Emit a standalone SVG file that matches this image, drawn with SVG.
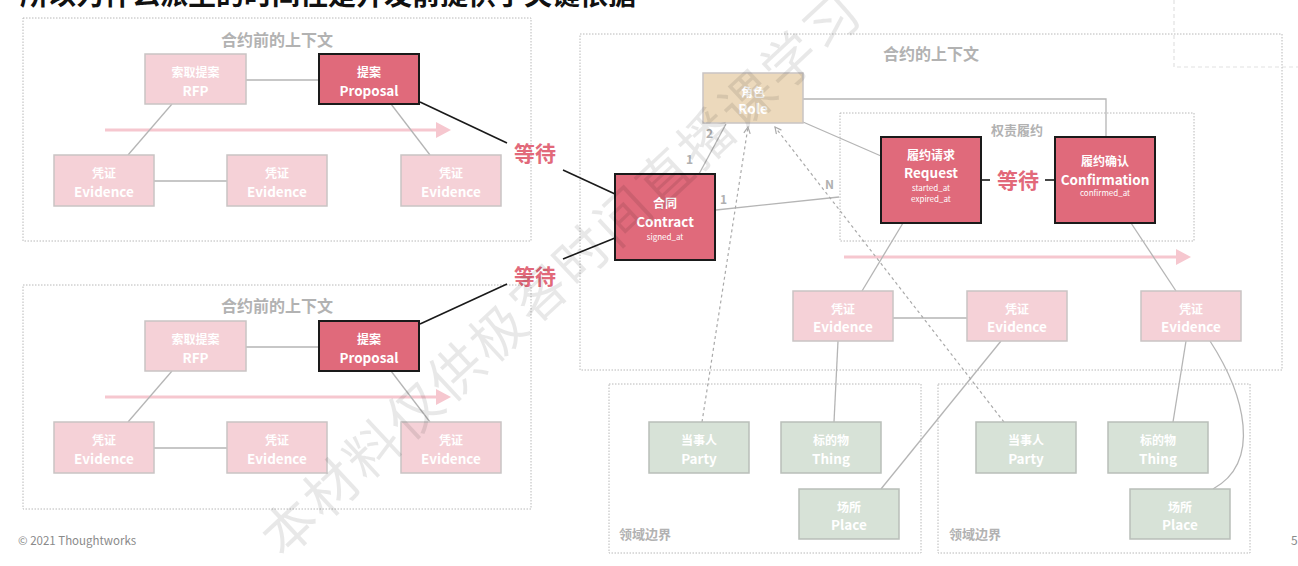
<svg xmlns="http://www.w3.org/2000/svg" width="1298" height="566" viewBox="0 0 1298 566">
<defs>
<style>
text{font-family:"Noto Sans CJK SC","Noto Sans",sans-serif;}
.frame{fill:none;stroke:#b8b8b8;stroke-width:1;stroke-dasharray:1.5 1.5;}
.ftitle{fill:#b2b2b2;font-size:16px;font-weight:bold;text-anchor:middle;}
.flabel{fill:#b2b2b2;font-size:13px;font-weight:bold;}
.pink{fill:#f5d1d7;stroke:#c9c4c4;stroke-width:1.5;}
.red{fill:#e06a7b;stroke:#1a1a1a;stroke-width:2;}
.role{fill:#ecd9bc;stroke:#c9c4c4;stroke-width:1.5;}
.green{fill:#d7e2d7;stroke:#b9beb9;stroke-width:1.5;}
.nt{fill:#fff;font-size:12px;font-weight:bold;text-anchor:middle;}
.ne{fill:#fff;font-size:13.5px;font-weight:bold;text-anchor:middle;}
.ns{fill:#fff;font-size:8px;text-anchor:middle;}
.gl{stroke:#b5b5b5;stroke-width:1.3;fill:none;}
.bl{stroke:#1a1a1a;stroke-width:1.6;fill:none;}
.dl{stroke:#aaaaaa;stroke-width:1.2;fill:none;stroke-dasharray:3 3;}
.pa{stroke:#f6c7cf;stroke-width:3;fill:none;}
.pah{fill:#f6c7cf;}
.wait{fill:#e2697a;font-size:21px;font-weight:bold;text-anchor:middle;}
.card{fill:#b0b0b0;font-size:12px;font-weight:bold;}
</style>
<marker id="dah" viewBox="0 0 10 10" refX="9" refY="5" markerWidth="8" markerHeight="8" orient="auto-start-reverse" markerUnits="userSpaceOnUse">
<path d="M1,1 L9,5 L1,9" fill="none" stroke="#aaaaaa" stroke-width="1.5"/>
</marker>
</defs>
<rect width="1298" height="566" fill="#ffffff"/>

<!-- cut title -->
<text x="20" y="5" font-size="28" font-weight="bold" fill="#111">所以为什么派生的时间性是开发前提供了关键依据</text>

<!-- faint page element top-right -->
<path d="M1174,0 V67 H1298" fill="none" stroke="#e2e2e2" stroke-width="1.2" stroke-dasharray="4 3"/>

<!-- frames -->
<g id="frame-pre1">
<rect class="frame" x="23" y="18" width="508" height="223"/>
<text class="ftitle" x="277" y="46">合约前的上下文</text>
</g>
<g id="frame-pre2">
<rect class="frame" x="23" y="285" width="508" height="224"/>
<text class="ftitle" x="277" y="312">合约前的上下文</text>
</g>
<g id="frame-contract">
<rect class="frame" x="580" y="34" width="702" height="336"/>
<text class="ftitle" x="931" y="60">合约的上下文</text>
</g>
<g id="frame-duty">
<rect class="frame" x="840" y="113" width="354" height="128"/>
<text class="flabel" x="1017" y="135" text-anchor="middle">权责履约</text>
</g>
<g id="frame-domain1">
<rect class="frame" x="609" y="384" width="312" height="169"/>
<text class="flabel" x="619" y="539">领域边界</text>
</g>
<g id="frame-domain2">
<rect class="frame" x="938" y="384" width="312" height="169"/>
<text class="flabel" x="949" y="539">领域边界</text>
</g>

<!-- pink time arrows -->
<g id="time-arrows">
<line class="pa" x1="105" y1="130" x2="438" y2="130"/>
<polygon class="pah" points="436,122 451,130 436,138"/>
<line class="pa" x1="105" y1="397" x2="438" y2="397"/>
<polygon class="pah" points="436,389 451,397 436,405"/>
<line class="pa" x1="844" y1="257" x2="1178" y2="257"/>
<polygon class="pah" points="1176,249 1191,257 1176,265"/>
</g>

<!-- connectors -->
<g id="connectors">
<line class="gl" x1="246" y1="80" x2="319" y2="80"/>
<line class="gl" x1="172" y1="104" x2="128" y2="155"/>
<line class="gl" x1="391" y1="104" x2="430" y2="155"/>
<line class="gl" x1="154" y1="181" x2="227" y2="181"/>
<line class="gl" x1="246" y1="347" x2="319" y2="347"/>
<line class="gl" x1="172" y1="371" x2="128" y2="422"/>
<line class="gl" x1="391" y1="371" x2="430" y2="422"/>
<line class="gl" x1="154" y1="448" x2="227" y2="448"/>

<line class="bl" x1="420" y1="102" x2="507" y2="143"/>
<line class="bl" x1="563" y1="170" x2="615" y2="194"/>
<line class="bl" x1="420" y1="324" x2="507" y2="284"/>
<line class="bl" x1="563" y1="259" x2="615" y2="238"/>

<line class="gl" x1="699" y1="174" x2="726" y2="124"/>
<line class="gl" x1="716" y1="210" x2="839" y2="197"/>
<polyline class="gl" points="803,99 1106,99 1106,137"/>
<line class="gl" x1="803" y1="122" x2="881" y2="156"/>
<line class="bl" x1="981" y1="180" x2="990" y2="180"/>
<line class="bl" x1="1045" y1="180" x2="1055" y2="180"/>

<line class="gl" x1="903" y1="223" x2="862" y2="291"/>
<line class="gl" x1="893" y1="318" x2="967" y2="318"/>
<line class="gl" x1="1131" y1="223" x2="1176" y2="291"/>
<line class="gl" x1="838" y1="341" x2="834" y2="422"/>
<line class="gl" x1="1001" y1="341" x2="881" y2="489"/>
<line class="gl" x1="1186" y1="341" x2="1173" y2="422"/>
<path class="gl" d="M1210,341 C1245,395 1262,462 1213,489"/>

<line class="dl" x1="702" y1="422" x2="748" y2="127" marker-end="url(#dah)"/>
<line class="dl" x1="1004" y1="422" x2="775" y2="127" marker-end="url(#dah)"/>

<text class="card" x="706" y="138">2</text>
<text class="card" x="686" y="164">1</text>
<text class="card" x="720" y="204">1</text>
<text class="card" x="825" y="189">N</text>

<text class="wait" x="535" y="161">等待</text>
<text class="wait" x="535" y="284">等待</text>
<text class="wait" x="1018" y="188">等待</text>
</g>

<!-- nodes: pre-contract 1 -->
<g id="rfp1"><rect class="pink" x="145" y="54" width="101" height="50"/><text class="nt" x="195.5" y="77">索取提案</text><text class="ne" x="195.5" y="96">RFP</text></g>
<g id="proposal1"><rect class="red" x="319" y="54" width="100" height="50"/><text class="nt" x="369" y="77">提案</text><text class="ne" x="369" y="96">Proposal</text></g>
<g id="evidence1a"><rect class="pink" x="54" y="155" width="100" height="51"/><text class="nt" x="104" y="178">凭证</text><text class="ne" x="104" y="197">Evidence</text></g>
<g id="evidence1b"><rect class="pink" x="227" y="155" width="100" height="51"/><text class="nt" x="277" y="178">凭证</text><text class="ne" x="277" y="197">Evidence</text></g>
<g id="evidence1c"><rect class="pink" x="401" y="155" width="100" height="51"/><text class="nt" x="451" y="178">凭证</text><text class="ne" x="451" y="197">Evidence</text></g>

<!-- nodes: pre-contract 2 -->
<g id="rfp2"><rect class="pink" x="145" y="321" width="101" height="50"/><text class="nt" x="195.5" y="344">索取提案</text><text class="ne" x="195.5" y="363">RFP</text></g>
<g id="proposal2"><rect class="red" x="319" y="321" width="100" height="50"/><text class="nt" x="369" y="344">提案</text><text class="ne" x="369" y="363">Proposal</text></g>
<g id="evidence2a"><rect class="pink" x="54" y="422" width="100" height="51"/><text class="nt" x="104" y="445">凭证</text><text class="ne" x="104" y="464">Evidence</text></g>
<g id="evidence2b"><rect class="pink" x="227" y="422" width="100" height="51"/><text class="nt" x="277" y="445">凭证</text><text class="ne" x="277" y="464">Evidence</text></g>
<g id="evidence2c"><rect class="pink" x="401" y="422" width="100" height="51"/><text class="nt" x="451" y="445">凭证</text><text class="ne" x="451" y="464">Evidence</text></g>

<!-- contract context -->
<g id="role"><rect class="role" x="703" y="73" width="100" height="50"/><text class="nt" x="753" y="97">角色</text><text class="ne" x="753" y="114">Role</text></g>
<g id="contract"><rect class="red" x="615" y="174" width="100" height="86"/><text class="nt" x="665" y="208">合同</text><text class="ne" x="665" y="227">Contract</text><text class="ns" x="665" y="240">signed_at</text></g>
<g id="request"><rect class="red" x="881" y="137" width="100" height="86"/><text class="nt" x="931" y="160">履约请求</text><text class="ne" x="931" y="178">Request</text><text class="ns" x="931" y="191">started_at</text><text class="ns" x="931" y="202">expired_at</text></g>
<g id="confirmation"><rect class="red" x="1055" y="137" width="100" height="86"/><text class="nt" x="1105" y="166">履约确认</text><text class="ne" x="1105" y="185">Confirmation</text><text class="ns" x="1105" y="196">confirmed_at</text></g>
<g id="evidence3a"><rect class="pink" x="793" y="291" width="100" height="50"/><text class="nt" x="843" y="314">凭证</text><text class="ne" x="843" y="332">Evidence</text></g>
<g id="evidence3b"><rect class="pink" x="967" y="291" width="100" height="50"/><text class="nt" x="1017" y="314">凭证</text><text class="ne" x="1017" y="332">Evidence</text></g>
<g id="evidence3c"><rect class="pink" x="1141" y="291" width="100" height="50"/><text class="nt" x="1191" y="314">凭证</text><text class="ne" x="1191" y="332">Evidence</text></g>

<!-- domain nodes -->
<g id="party1"><rect class="green" x="649" y="422" width="100" height="51"/><text class="nt" x="699" y="445">当事人</text><text class="ne" x="699" y="464">Party</text></g>
<g id="thing1"><rect class="green" x="781" y="422" width="100" height="51"/><text class="nt" x="831" y="445">标的物</text><text class="ne" x="831" y="464">Thing</text></g>
<g id="place1"><rect class="green" x="799" y="489" width="100" height="50"/><text class="nt" x="849" y="512">场所</text><text class="ne" x="849" y="530">Place</text></g>
<g id="party2"><rect class="green" x="976" y="422" width="100" height="51"/><text class="nt" x="1026" y="445">当事人</text><text class="ne" x="1026" y="464">Party</text></g>
<g id="thing2"><rect class="green" x="1108" y="422" width="100" height="51"/><text class="nt" x="1158" y="445">标的物</text><text class="ne" x="1158" y="464">Thing</text></g>
<g id="place2"><rect class="green" x="1130" y="489" width="100" height="50"/><text class="nt" x="1180" y="512">场所</text><text class="ne" x="1180" y="530">Place</text></g>

<!-- footer -->
<text x="18" y="545" font-size="11.5" fill="#8a8a8a">© 2021 Thoughtworks</text>
<text x="1291" y="545" font-size="12" fill="#8a8a8a">5</text>

<!-- watermark -->
<text transform="translate(283,560) rotate(-43)" font-size="54" fill="#000" fill-opacity="0.09" letter-spacing="3">本材料仅供极客时间直播课学习</text>
</svg>
